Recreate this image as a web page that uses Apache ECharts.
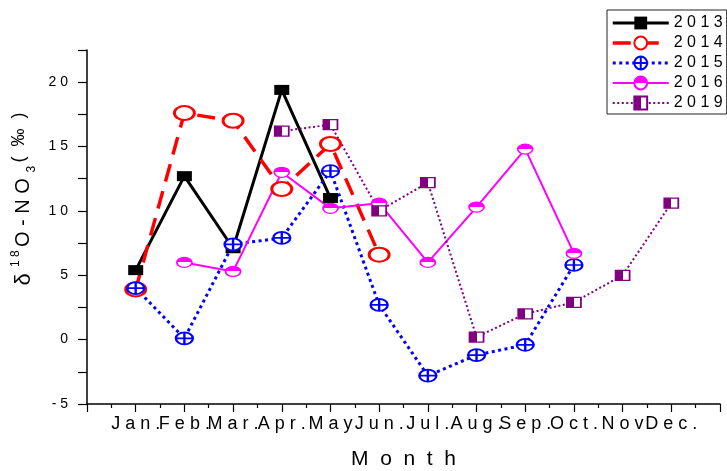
<!DOCTYPE html>
<html>
<head>
<meta charset="utf-8">
<script src="https://cdn.jsdelivr.net/npm/echarts@6/dist/echarts.min.js"></script>
<style>
  html, body { margin: 0; padding: 0; background: #fff; }
  #chart { width: 727px; height: 471px; }
</style>
</head>
<body>
<div id="chart"></div>
<script>
// Month labels along the x axis (positions 1..12)
const months = ['Jan.', 'Feb.', 'Mar.', 'Apr.', 'May', 'Jun.', 'Jul.', 'Aug.', 'Sep.', 'Oct.', 'Nov', 'Dec.'];

// δ18O-NO3 (‰) per month, null where a year has no sample
const y2013 = [5.4, 12.7, 7.1, 19.4, 11.0];
const y2014 = [3.9, 17.6, 17.0, 11.7, 15.2, 6.6];
const y2015 = [4.0, 0.1, 7.4, 7.9, 13.1, 2.7, -2.8, -1.2, -0.4, 5.8];
const y2016 = [null, 6.0, 5.3, 13.0, 10.2, 10.6, 6.0, 10.3, 14.8, 6.7];
const y2019 = [null, null, null, 16.2, 16.7, 10.0, 12.2, 0.2, 2.0, 2.9, 5.0, 10.6];

// Labelled y ticks
const yLabelValues = [-5, 0, 5, 10, 15, 20];

const FONT = 'Liberation Sans';
const spaced = s => String(s).split('').join(' ');
const toPoints = arr => arr.map((v, i) => (v == null ? null : [i + 1, v])).filter(p => p);

// Two-tone fill: first half in colour, second half white
const halfFill = (color, horizontal) => ({
  type: 'linear', x: 0, y: 0, x2: horizontal ? 1 : 0, y2: horizontal ? 0 : 1,
  colorStops: [
    { offset: 0, color: color }, { offset: 0.5, color: color },
    { offset: 0.5, color: '#ffffff' }, { offset: 1, color: '#ffffff' }
  ]
});

// Ellipse with a cross inside
const crossCircle = 'path://M0,6A8,6 0 1,1 16,6A8,6 0 1,1 0,6ZM8,0L8,12M0,6L16,6';

const chart = echarts.init(document.getElementById('chart'), null, { renderer: 'canvas' });

chart.setOption({
  animation: false,
  backgroundColor: '#ffffff',
  textStyle: { fontFamily: FONT, color: '#000' },
  grid: { left: 87, right: 7, top: 50, bottom: 67, containLabel: false, outerBoundsMode: 'none' },
  legend: {
    orient: 'vertical',
    left: 607, top: 10,
    padding: [5, 4, 3, 4],
    borderColor: '#222', borderWidth: 1,
    itemWidth: 56, itemHeight: 16, itemGap: 4,
    textStyle: { fontFamily: FONT, fontSize: 16, color: '#000' },
    formatter: name => spaced(name),
    lineStyle: { width: 'inherit' },
    data: ['2013', '2014', '2015', '2016', '2019']
  },
  xAxis: {
    type: 'value', min: 0, max: 13, interval: 1,
    name: 'M  o  n  t  h', nameLocation: 'middle', nameGap: 45,
    nameTextStyle: { fontFamily: FONT, fontSize: 21, color: '#000' },
    axisLine: { onZero: false, lineStyle: { color: '#000', width: 1.5 } },
    axisTick: { show: true, length: 8, lineStyle: { color: '#000', width: 1.2 } },
    minorTick: { show: true, splitNumber: 2, length: 4, lineStyle: { color: '#000', width: 1.2 } },
    splitLine: { show: false },
    axisLabel: {
      margin: 11, fontFamily: FONT, fontSize: 18, color: '#000',
      formatter: v => (v >= 1 && v <= 12 ? spaced(months[v - 1]) : '')
    }
  },
  yAxis: {
    type: 'value', min: -5, max: 22.5, interval: 2.5,
    name: '{d|δ }{sup|1 8 }{m|O - N O }{sub|3 }{p|(  ‰  )}',
    nameLocation: 'middle', nameRotate: 90, nameGap: 33,
    nameTextStyle: {
      padding: [0, 0, 0, 56],
      rich: {
        d: { fontFamily: FONT, fontSize: 22, lineHeight: 28, color: '#000' },
        m: { fontFamily: FONT, fontSize: 20, lineHeight: 28, color: '#000' },
        sup: { fontFamily: FONT, fontSize: 12, lineHeight: 13, verticalAlign: 'top', color: '#000' },
        sub: { fontFamily: FONT, fontSize: 12, lineHeight: 13, verticalAlign: 'bottom', color: '#000' },
        p: { fontFamily: FONT, fontSize: 18, lineHeight: 25, verticalAlign: 'top', color: '#000' }
      }
    },
    axisLine: { show: true, lineStyle: { color: '#000', width: 1.5 } },
    axisTick: { show: true, length: 9, lineStyle: { color: '#000', width: 1.2 } },
    splitLine: { show: false },
    axisLabel: {
      margin: 19, fontFamily: FONT, fontSize: 14, color: '#000',
      formatter: v => (yLabelValues.indexOf(v) >= 0 ? spaced(v < 0 ? '-' + Math.abs(v) : v) : '')
    }
  },
  series: [
    {
      name: '2013', type: 'line', data: toPoints(y2013),
      symbol: 'rect', symbolSize: [15, 10], showAllSymbol: true,
      lineStyle: { color: '#000000', width: 3 },
      itemStyle: { color: '#000000', borderColor: '#000000', borderWidth: 0 }
    },
    {
      name: '2014', type: 'line', data: toPoints(y2014),
      symbol: 'circle', symbolSize: [20, 14], showAllSymbol: true,
      lineStyle: { color: '#ff0000', width: 3.5, type: [18, 10] },
      itemStyle: { color: '#ffffff', borderColor: '#ff0000', borderWidth: 2.5 }
    },
    {
      name: '2015', type: 'line', data: toPoints(y2015),
      symbol: crossCircle, symbolSize: [17, 12], symbolKeepAspect: false, showAllSymbol: true,
      lineStyle: { color: '#0000ff', width: 3, type: [3, 3.5] },
      itemStyle: { color: '#ffffff', borderColor: '#0000ff', borderWidth: 2 }
    },
    {
      name: '2016', type: 'line', data: toPoints(y2016),
      symbol: 'circle', symbolSize: [15, 10], showAllSymbol: true,
      lineStyle: { color: '#ff00ff', width: 2 },
      itemStyle: { color: halfFill('#ff00ff', false), borderColor: '#ff00ff', borderWidth: 1.5 }
    },
    {
      name: '2019', type: 'line', data: toPoints(y2019),
      symbol: 'rect', symbolSize: [14, 10], showAllSymbol: true,
      lineStyle: { color: '#800080', width: 2, type: [2, 2.5] },
      itemStyle: { color: halfFill('#800080', true), borderColor: '#800080', borderWidth: 1.5 }
    }
  ]
});
</script>
</body>
</html>
